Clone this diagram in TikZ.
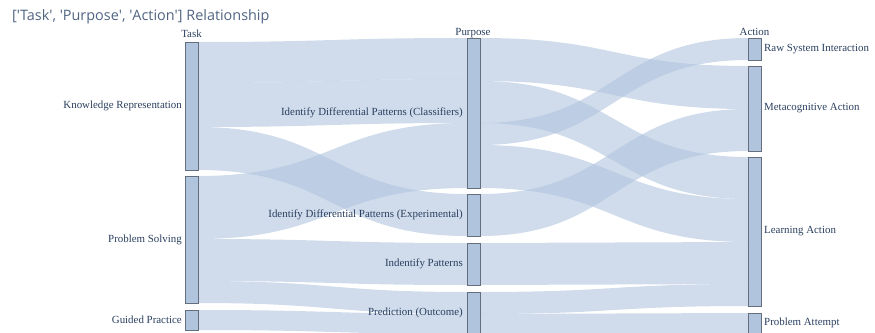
\documentclass[tikz,border=0pt]{standalone}
\usepackage{fontspec}
\setmainfont{Liberation Serif}
\newfontfamily\titlefont{Open Sans}
\usepackage{tikz}
\usetikzlibrary{positioning}

\definecolor{flowblue}{RGB}{176,196,222}
\definecolor{barline}{RGB}{100,110,124}
\definecolor{labelcol}{RGB}{42,63,95}
\definecolor{titlecol}{RGB}{80,100,130}

\pgfdeclarelayer{bg}
\pgfsetlayers{bg,main}

% band from source (#1, offsets #2-#3) to target (#4, offsets #5-#6)
\newcommand{\band}[6]{%
  \fill[flow] ([yshift=-#2pt]#1.north east) .. controls +(134.5pt,0) and +(-134.5pt,0) .. ([yshift=-#5pt]#4.north west)
    -- ([yshift=-#6pt]#4.north west) .. controls +(-134.5pt,0) and +(134.5pt,0) .. ([yshift=-#3pt]#1.north east) -- cycle;}

\begin{document}
\begin{tikzpicture}
  [x=1pt,y=-1pt,
   bar/.style={anchor=north west,rectangle,draw=barline,fill=flowblue,line width=0.8pt,
     minimum width=13pt,inner sep=0pt,outer sep=0pt},
   flow/.style={fill=flowblue,fill opacity=0.6},
   lbl/.style={text=labelcol,inner sep=0pt,font=\fontsize{10.9}{12}\selectfont},
   head/.style={lbl,anchor=base}]
  \useasboundingbox (0,0) rectangle (875,332);

  \node[anchor=base west,inner sep=0pt,text=titlecol,font=\titlefont\fontsize{14.4}{17}\selectfont] (title) at (12,20)
    {[\textquotesingle Task\textquotesingle, \textquotesingle Purpose\textquotesingle, \textquotesingle Action\textquotesingle] Relationship};

  % task
  \node[bar,minimum height=128pt] (kr) at (185,42) {};
  \node[bar,minimum height=127pt] (ps) at (185,176) {};
  \node[bar,minimum height=20pt] (gp) at (185,310) {};
  % purpose
  \node[bar,minimum height=150pt] (cl) at (467,38) {};
  \node[bar,minimum height=42pt] (ex) at (467,194) {};
  \node[bar,minimum height=42pt] (ip) at (467,243) {};
  \node[bar,minimum height=42pt] (pr) at (467,292) {};
  % action
  \node[bar,minimum height=22pt] (raw) at (748,38) {};
  \node[bar,minimum height=85pt] (meta) at (748,66) {};
  \node[bar,minimum height=149pt] (learn) at (748,157) {};
  \node[bar,minimum height=20pt] (pa) at (748,313) {};

  \node[head] (taskhead) at (191.5,37) {Task};
  \node[head] (purposehead) at (473,35) {Purpose};
  \node[head] (actionhead) at (754.5,35) {Action};

  \node[lbl,left=3pt of kr] {Knowledge Representation};
  \node[lbl,left=3pt of ps] {Problem Solving};
  \node[lbl,left=3pt of gp] {Guided Practice};
  \node[lbl,left=4pt of cl] {Identify Differential Patterns (Classifiers)};
  \node[lbl,left=4pt of ex] {Identify Differential Patterns (Experimental)};
  \node[lbl,left=4pt of ip] {Indentify Patterns};
  \node[lbl,left=4pt of pr] {Prediction (Outcome)};
  \node[lbl,right=3pt of raw] {Raw System Interaction};
  \node[lbl,right=3pt of meta] {Metacognitive Action};
  \node[lbl,right=3pt of learn] {Learning Action};
  \node[lbl,right=3pt of pa] {Problem Attempt};

  \begin{pgfonlayer}{bg}
    \band{kr}{0}{41}{cl}{0}{41}
    \band{kr}{41}{85}{cl}{41}{85}
    \band{kr}{85}{128}{ex}{0}{42}
    \band{ps}{0}{63}{cl}{85}{150}
    \band{ps}{63}{105}{ip}{0}{42}
    \band{ps}{105}{127}{pr}{0}{22}
    \band{gp}{0}{20}{pr}{22}{42}
    \band{cl}{0}{43}{meta}{0}{43}
    \band{cl}{43}{85}{learn}{0}{42}
    \band{cl}{85}{107}{raw}{0}{22}
    \band{cl}{107}{150}{learn}{42}{85}
    \band{ex}{0}{42}{meta}{43}{85}
    \band{ip}{0}{42}{learn}{85}{127}
    \band{pr}{0}{22}{learn}{127}{149}
    \band{pr}{22}{42}{pa}{0}{20}
  \end{pgfonlayer}
\end{tikzpicture}
\end{document}
